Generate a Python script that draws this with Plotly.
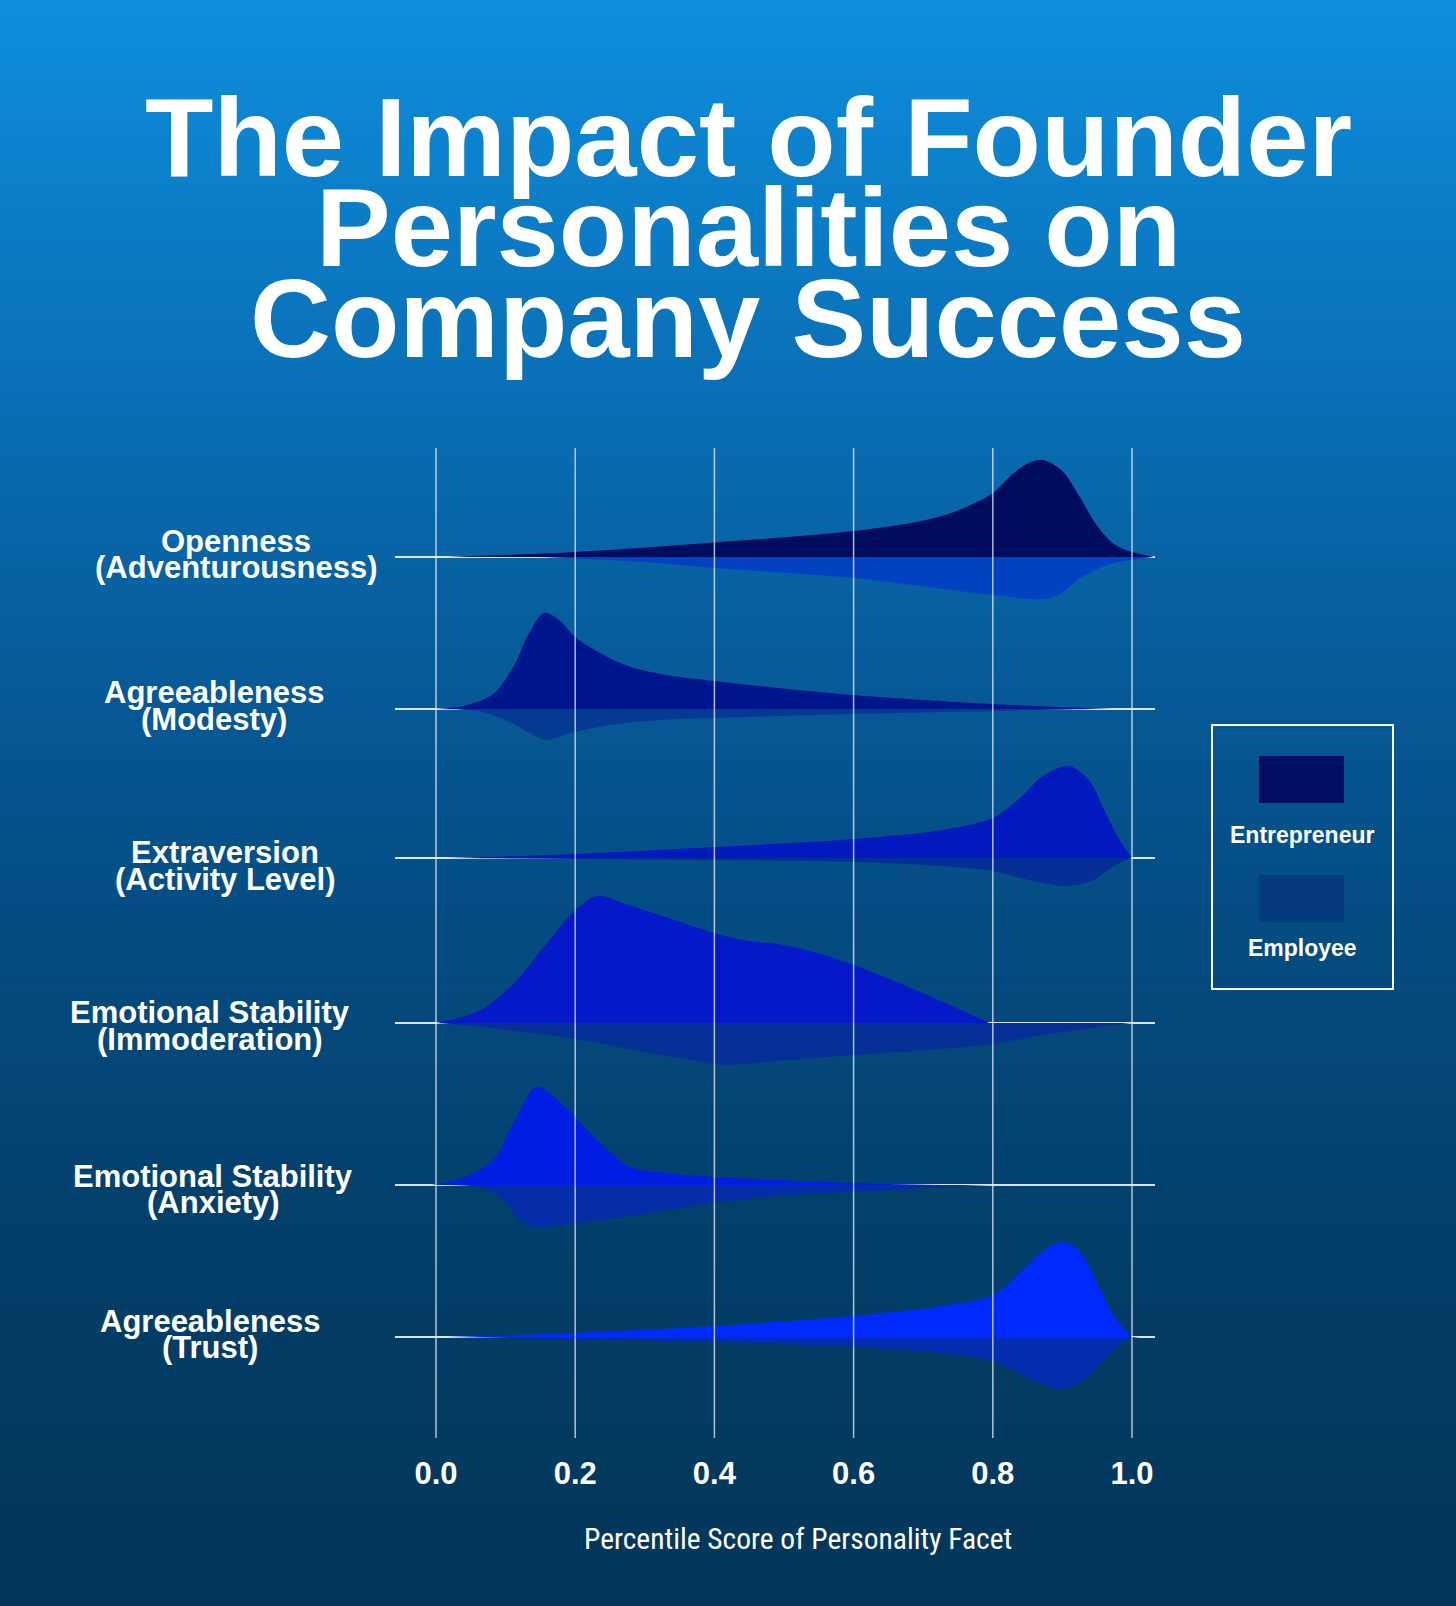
import plotly.graph_objects as go

# ---------------- data ----------------
FACETS = ["Openness (Adventurousness)", "Agreeableness (Modesty)", "Extraversion (Activity Level)",
          "Emotional Stability (Immoderation)", "Emotional Stability (Anxiety)", "Agreeableness (Trust)"]
LABEL_LINE1 = ["Openness", "Agreeableness", "Extraversion", "Emotional Stability", "Emotional Stability", "Agreeableness"]
LABEL_LINE2 = ["(Adventurousness)", "(Modesty)", "(Activity Level)", "(Immoderation)", "(Anxiety)", "(Trust)"]
SERIES = ["Entrepreneur", "Employee"]
TICK_VALS = [0.0, 0.2, 0.4, 0.6, 0.8, 1.0]
TICK_TEXT = ["0.0", "0.2", "0.4", "0.6", "0.8", "1.0"]
X_TITLE = "Percentile Score of Personality Facet"
TITLE_LINES = ["The Impact of Founder", "Personalities on", "Company Success"]

# density curves (x = percentile score, d = density height)
OPEN_ENT_X = [0.016, 0.2, 0.4, 0.6, 0.697, 0.748, 0.8, 0.83, 0.852, 0.872, 0.90, 0.925, 0.948, 0.974, 1.0, 1.033]
OPEN_ENT_D = [0, 5, 14.5, 26, 36, 46, 64, 84, 94, 97, 86, 60, 33, 13, 5, 0]
OPEN_EMP_X = [0.15, 0.3, 0.4, 0.506, 0.6, 0.697, 0.8, 0.872, 0.894, 0.93, 0.974, 1.0, 1.03]
OPEN_EMP_D = [0, 5, 11, 16, 21, 29, 38, 42, 38, 19, 6, 3, 0]

MOD_ENT_X = [0.0, 0.045, 0.082, 0.111, 0.133, 0.155, 0.177, 0.2, 0.228, 0.272, 0.323, 0.4, 0.6, 0.8, 0.974]
MOD_ENT_D = [0, 4, 15, 42, 75, 96, 89, 72, 59, 44, 35, 28, 14, 5, 0]
MOD_EMP_X = [0.0, 0.067, 0.111, 0.14, 0.159, 0.184, 0.2, 0.25, 0.323, 0.4, 0.6, 0.8, 0.945]
MOD_EMP_D = [0, 3, 15, 26, 31, 26, 23, 16, 11, 9, 5, 2, 0]

EXT_ENT_X = [0.016, 0.2, 0.4, 0.6, 0.726, 0.8, 0.836, 0.872, 0.909, 0.938, 0.96, 0.982, 1.0]
EXT_ENT_D = [0, 4, 11, 19, 28, 40, 58, 82, 92, 78, 48, 18, 0]
EXT_EMP_X = [0.016, 0.4, 0.6, 0.726, 0.8, 0.857, 0.909, 0.945, 0.974, 1.0]
EXT_EMP_D = [0, 2, 4, 8, 13, 23, 28, 22, 8, 0]

IMM_ENT_X = [0.0, 0.038, 0.067, 0.111, 0.155, 0.2, 0.232, 0.272, 0.33, 0.4, 0.448, 0.492, 0.543, 0.6, 0.689, 0.795]
IMM_ENT_D = [0, 6, 14, 39, 76, 113, 127, 119, 106, 90, 82, 79, 71, 58, 33, 0]
IMM_EMP_X = [0.0, 0.067, 0.2, 0.301, 0.4, 0.418, 0.506, 0.6, 0.726, 0.8, 0.872, 0.974, 1.0]
IMM_EMP_D = [0, 4, 16, 29, 41, 42, 37, 32, 26, 21, 12, 2, 0]

ANX_ENT_X = [-0.006, 0.038, 0.082, 0.111, 0.144, 0.17, 0.2, 0.236, 0.279, 0.33, 0.4, 0.6, 0.726]
ANX_ENT_D = [0, 7, 25, 62, 98, 88, 68, 42, 18, 12, 8, 2, 0]
ANX_EMP_X = [0.0, 0.067, 0.097, 0.119, 0.14, 0.2, 0.287, 0.4, 0.506, 0.6, 0.726, 0.8]
ANX_EMP_D = [0, 3, 15, 35, 42, 38, 30, 18, 10, 7, 2, 0]

TRU_ENT_X = [0.016, 0.2, 0.4, 0.6, 0.726, 0.8, 0.843, 0.872, 0.898, 0.923, 0.945, 0.974, 1.0]
TRU_ENT_D = [0, 4, 11, 21, 31, 42, 67, 86, 95, 87, 61, 21, 0]
TRU_EMP_X = [0.016, 0.2, 0.4, 0.6, 0.726, 0.8, 0.857, 0.898, 0.93, 0.96, 0.989, 1.01]
TRU_EMP_D = [0, 2, 5, 10, 16, 24, 43, 52, 43, 23, 4, 0]

ENT_X = [OPEN_ENT_X, MOD_ENT_X, EXT_ENT_X, IMM_ENT_X, ANX_ENT_X, TRU_ENT_X]
ENT_D = [OPEN_ENT_D, MOD_ENT_D, EXT_ENT_D, IMM_ENT_D, ANX_ENT_D, TRU_ENT_D]
EMP_X = [OPEN_EMP_X, MOD_EMP_X, EXT_EMP_X, IMM_EMP_X, ANX_EMP_X, TRU_EMP_X]
EMP_D = [OPEN_EMP_D, MOD_EMP_D, EXT_EMP_D, IMM_EMP_D, ANX_EMP_D, TRU_EMP_D]

# ---------------- layout / style ----------------
W, H = 1456, 1606
PL, PR, PT, PB = 395, 1155, 448, 1438          # plot area in page pixels
ROW_BASE_PX = [557, 709, 858, 1023, 1185, 1337]
LABEL_X_PX = [236, 214, 225, 210, 213, 210]
LABEL_Y1_PX = [541, 692, 852, 1012, 1176, 1321]
LABEL_Y2_PX = [567, 719, 879, 1039, 1202, 1347]
ENT_COLORS = ["#000d5f", "#00168c", "#0219be", "#0519c8", "#001ee1", "#002aff"]
EMP_COLORS = ["#0341c3", "#063a92", "#062f96", "#063096", "#052da8", "#042daf"]
BG_STOPS = [(0.0, (14, 142, 221)), (0.25, (9, 110, 180)), (0.5, (5, 82, 140)),
            (0.75, (3, 64, 108)), (1.0, (3, 54, 88))]
BOLD = "Liberation Sans, Arial, Helvetica, sans-serif"
NARROW = "Liberation Sans Narrow, Arial Narrow, Roboto Condensed, Liberation Sans, sans-serif"

X0 = -41 / 696
X1 = X0 + (PR - PL) / 696


def fx(xp):
    return (xp - PL) / (PR - PL)


def fy(yp):
    return (PB - yp) / (PB - PT)


def bg_color(t):
    for (t0, c0), (t1, c1) in zip(BG_STOPS[:-1], BG_STOPS[1:]):
        if t0 <= t <= t1:
            u = (t - t0) / (t1 - t0)
            c = [round(a + (b - a) * u) for a, b in zip(c0, c1)]
            return "rgb(%d,%d,%d)" % tuple(c)
    return "rgb(%d,%d,%d)" % BG_STOPS[-1][1]


fig = go.Figure()

for i in range(len(FACETS)):
    base = PB - ROW_BASE_PX[i]
    fig.add_trace(go.Scatter(
        x=EMP_X[i], y=[base - d for d in EMP_D[i]], mode="lines", fill="toself",
        fillcolor=EMP_COLORS[i], line=dict(width=0, shape="spline", smoothing=0.9),
        name=SERIES[1], showlegend=False, hoverinfo="skip"))
    fig.add_trace(go.Scatter(
        x=ENT_X[i], y=[base + d for d in ENT_D[i]], mode="lines", fill="toself",
        fillcolor=ENT_COLORS[i], line=dict(width=0, shape="spline", smoothing=0.9),
        name=SERIES[0], showlegend=False, hoverinfo="skip"))

shapes = []
# gradient background
N = 160
for k in range(N):
    y_top = H * k / N
    y_bot = H * (k + 1) / N + 1
    shapes.append(dict(type="rect", xref="paper", yref="paper", layer="below",
                       x0=fx(-2), x1=fx(W + 2), y0=fy(y_bot), y1=fy(y_top - 1),
                       fillcolor=bg_color((k + 0.5) / N), line=dict(width=0)))
# vertical grid lines above the ridges
for v in TICK_VALS:
    shapes.append(dict(type="line", xref="x", yref="paper", layer="above",
                       x0=v, x1=v, y0=0, y1=1,
                       line=dict(color="rgba(235,242,255,0.75)", width=1.5)))
# legend box and swatches
shapes.append(dict(type="rect", xref="paper", yref="paper", x0=fx(1212), x1=fx(1393),
                   y0=fy(989), y1=fy(725), line=dict(color="white", width=2),
                   fillcolor="rgba(0,0,0,0)"))
shapes.append(dict(type="rect", xref="paper", yref="paper", x0=fx(1259), x1=fx(1344),
                   y0=fy(803), y1=fy(756), line=dict(width=0), fillcolor="#000e64"))
shapes.append(dict(type="rect", xref="paper", yref="paper", x0=fx(1259), x1=fx(1344),
                   y0=fy(922), y1=fy(875), line=dict(width=0), fillcolor="#053a7c"))

ann = []
TITLE_Y_PX = [137, 228, 318]
for line, yp in zip(TITLE_LINES, TITLE_Y_PX):
    ann.append(dict(text=line, xref="paper", yref="paper", x=fx(748), y=fy(yp),
                    xanchor="center", yanchor="middle", showarrow=False,
                    font=dict(family=BOLD, size=112, color="white", weight="bold")))
for i in range(len(FACETS)):
    for txt, yp in ((LABEL_LINE1[i], LABEL_Y1_PX[i]), (LABEL_LINE2[i], LABEL_Y2_PX[i])):
        ann.append(dict(text=txt, xref="paper", yref="paper", x=fx(LABEL_X_PX[i]), y=fy(yp),
                        xanchor="center", yanchor="middle", showarrow=False,
                        font=dict(family=BOLD, size=31, color="white", weight="bold")))
ann.append(dict(text=X_TITLE, xref="paper", yref="paper", x=fx(798), y=fy(1539),
                xanchor="center", yanchor="middle", showarrow=False,
                font=dict(family=NARROW, size=29.5, color="white")))
ann.append(dict(text=SERIES[0], xref="paper", yref="paper", x=fx(1302), y=fy(835),
                xanchor="center", yanchor="middle", showarrow=False,
                font=dict(family=BOLD, size=23, color="white", weight="bold")))
ann.append(dict(text=SERIES[1], xref="paper", yref="paper", x=fx(1302), y=fy(948),
                xanchor="center", yanchor="middle", showarrow=False,
                font=dict(family=BOLD, size=23, color="white", weight="bold")))

fig.update_layout(
    width=W, height=H, autosize=False,
    margin=dict(l=PL, r=W - PR, t=PT, b=H - PB, pad=0),
    paper_bgcolor="#0a5a9a", plot_bgcolor="rgba(0,0,0,0)",
    shapes=shapes, annotations=ann, showlegend=False,
    xaxis=dict(range=[X0, X1], tickvals=TICK_VALS, ticktext=TICK_TEXT, showgrid=False,
               zeroline=False, showline=False, ticks="", ticklabelstandoff=14,
               tickfont=dict(family=BOLD, size=31, color="white", weight="bold"),
               fixedrange=True),
    yaxis=dict(range=[0, PB - PT], tickvals=[PB - b for b in ROW_BASE_PX], showticklabels=False,
               showgrid=True, gridcolor="rgba(255,255,255,0.85)", gridwidth=1.5,
               zeroline=False, showline=False, ticks="", fixedrange=True),
)

fig.write_html("out.html", config={"displayModeBar": False},
               post_script="document.body.style.margin='0';document.body.style.overflow='hidden';")
